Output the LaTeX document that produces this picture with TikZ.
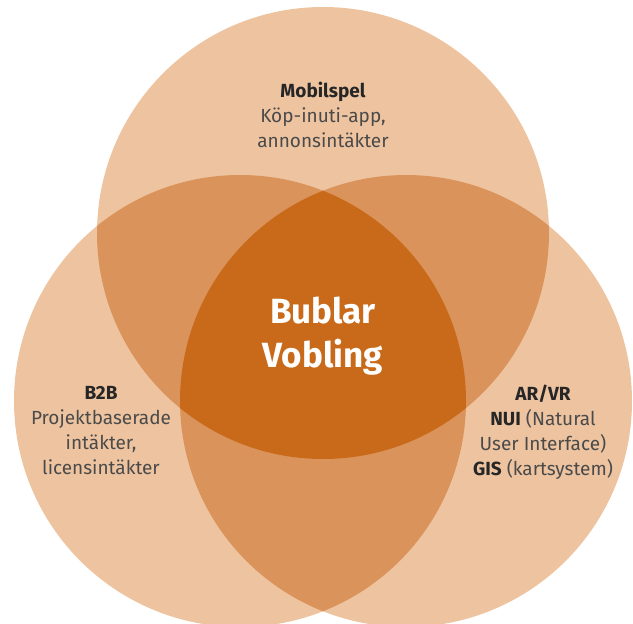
\documentclass[tikz,border=0pt]{standalone}
\usepackage{fontspec}
\setmainfont{Fira Sans}
\definecolor{lightfill}{HTML}{EEC4A0}
\definecolor{midfill}{HTML}{DA935B}
\definecolor{darkfill}{HTML}{C96A1A}
\definecolor{txt}{HTML}{4A4A4A}
\definecolor{txtb}{HTML}{262626}
\begin{document}
\begin{tikzpicture}[x=1pt,y=-1pt,
  label/.style={align=center,text=txt,inner sep=0pt,font=\fontsize{19}{25}\selectfont},
  big/.style={align=center,text=white,inner sep=0pt,font=\fontsize{35}{44}\selectfont\bfseries}]
\useasboundingbox (0,0) rectangle (633,624);
\clip (0,0) rectangle (633,624);
\coordinate (T) at (323,233);
\coordinate (L) at (240,401);
\coordinate (R) at (406,401);
\def\rr{226pt}
\fill[lightfill] (T) circle[radius=\rr];
\fill[lightfill] (L) circle[radius=\rr];
\fill[lightfill] (R) circle[radius=\rr];
\begin{scope}
  \clip (T) circle[radius=\rr];
  \fill[midfill] (L) circle[radius=\rr];
  \fill[midfill] (R) circle[radius=\rr];
\end{scope}
\begin{scope}
  \clip (L) circle[radius=\rr];
  \fill[midfill] (R) circle[radius=\rr];
\end{scope}
\begin{scope}
  \clip (T) circle[radius=\rr];
  \clip (L) circle[radius=\rr];
  \fill[darkfill] (R) circle[radius=\rr];
\end{scope}
\node[label] (mob) at (323,115) {\textcolor{txtb}{\bfseries Mobilspel}\\Köp-inuti-app,\\annonsintäkter};
\node[label] (b2b) at (101,431) {\textcolor{txtb}{\bfseries B2B}\\Projektbaserade\\intäkter,\\licensintäkter};
\node[label] (arvr) at (543,432) {\textcolor{txtb}{\bfseries AR/VR}\\\textcolor{txtb}{\bfseries NUI} (Natural\\User Interface)\\\textcolor{txtb}{\bfseries GIS} (kartsystem)};
\node[big] (core) at (323,336) {Bublar\\Vobling};
\end{tikzpicture}
\end{document}
